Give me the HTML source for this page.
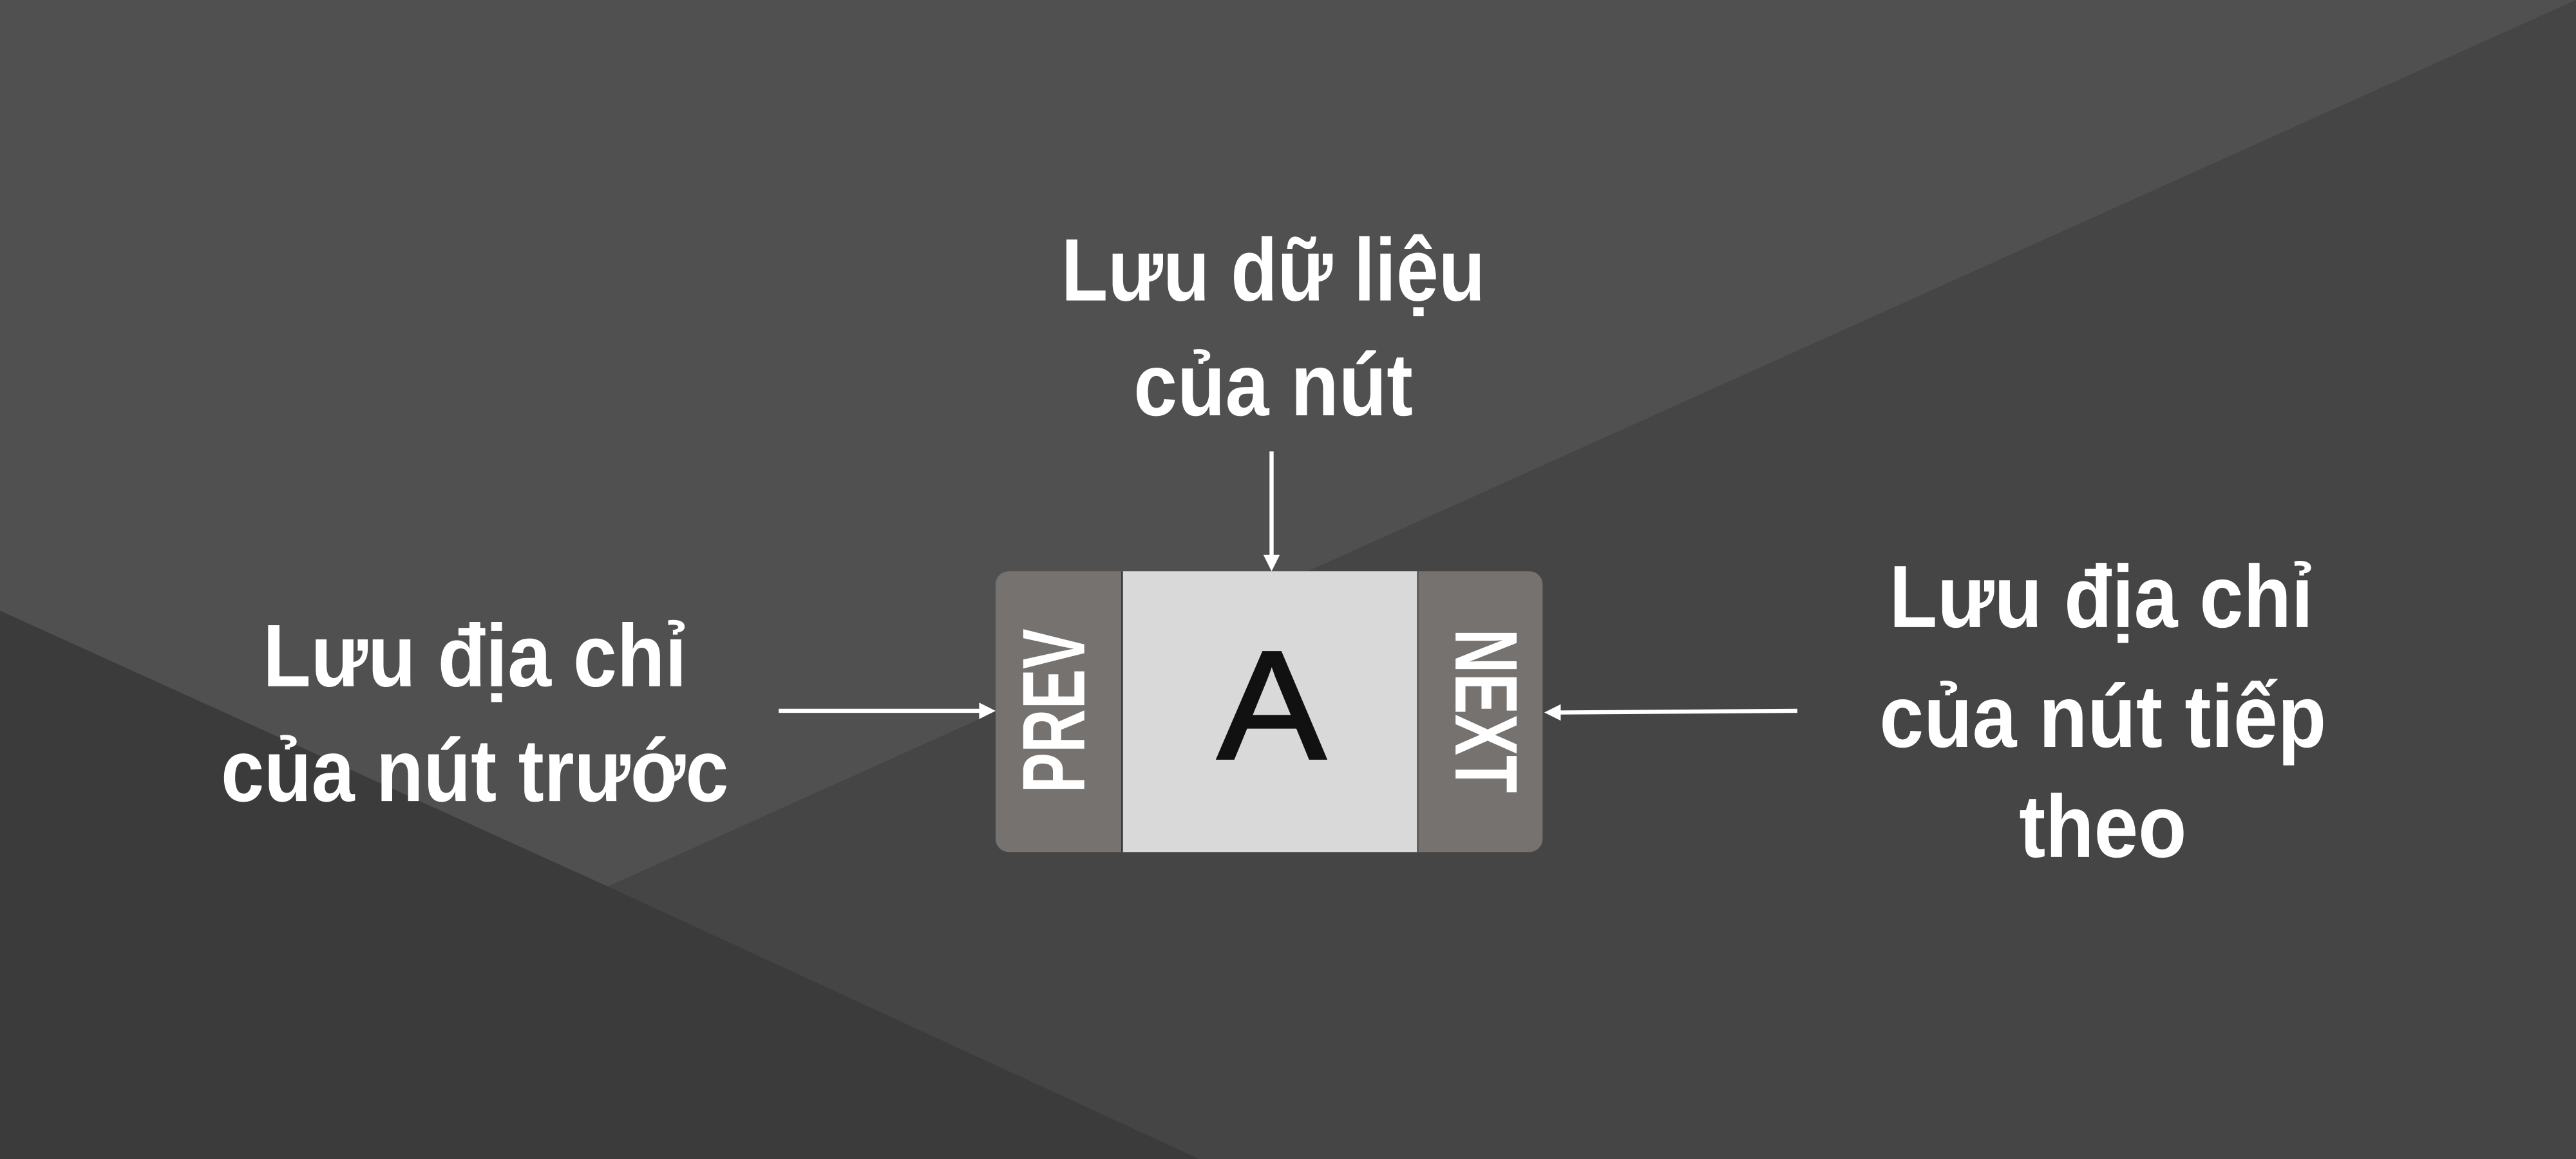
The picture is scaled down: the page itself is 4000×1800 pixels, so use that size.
<!DOCTYPE html>
<html><head><meta charset="utf-8"><style>
html,body{margin:0;padding:0;width:4000px;height:1800px;overflow:hidden;background:#474747}
svg{display:block}
.t{font-family:"Liberation Sans Narrow","Liberation Sans",sans-serif;font-weight:bold;fill:#fff;font-size:54px;text-anchor:middle}
</style></head><body>
<svg width="4000" height="1800" viewBox="0 0 1568 706" preserveAspectRatio="none">
<polygon points="0,0 1568,0 370,540 0,372" fill="#505050"/>
<polygon points="1568,0 1568,706 730,706 370,540" fill="#454545"/>
<polygon points="0,372 370,540 730,706 0,706" fill="#3b3b3b"/>
<rect x="606" y="348" width="333" height="171" rx="8" fill="#767270"/>
<rect x="683" y="348" width="180" height="171" fill="#d9d9d9"/>
<line x1="683" y1="348" x2="683" y2="519" stroke="#333" stroke-width="1"/>
<line x1="863" y1="348" x2="863" y2="519" stroke="#555" stroke-width="1"/>
<text x="774" y="462" font-family="Liberation Sans,sans-serif" font-size="94" text-anchor="middle" fill="#111" stroke="#111" stroke-width="1.5" textLength="66" lengthAdjust="spacingAndGlyphs">A</text>
<text class="t" font-size="40" textLength="100" lengthAdjust="spacingAndGlyphs" transform="translate(660,433) rotate(-90)">PREV</text>
<text class="t" font-size="40" textLength="100" lengthAdjust="spacingAndGlyphs" transform="translate(886,433) rotate(90)">NEXT</text>
<g class="t">
<text class="t" x="775" y="183" textLength="258" lengthAdjust="spacingAndGlyphs">Lưu dữ liệu</text>
<text class="t" x="775" y="253" textLength="170" lengthAdjust="spacingAndGlyphs">của nút</text>
<text class="t" x="289" y="418" textLength="258" lengthAdjust="spacingAndGlyphs">Lưu địa chỉ</text>
<text class="t" x="289" y="488" textLength="309" lengthAdjust="spacingAndGlyphs">của nút trước</text>
<text class="t" x="1279" y="382" textLength="258" lengthAdjust="spacingAndGlyphs">Lưu địa chỉ</text>
<text class="t" x="1280" y="455" textLength="272" lengthAdjust="spacingAndGlyphs">của nút tiếp</text>
<text class="t" x="1280" y="522" textLength="102" lengthAdjust="spacingAndGlyphs">theo</text>
</g>
<g stroke="#fff" stroke-width="2.5" fill="#fff">
<line x1="474" y1="433" x2="598" y2="433"/>
<polygon points="606,433 596,428 596,438" stroke="none"/>
<line x1="774" y1="275" x2="774" y2="340"/>
<polygon points="774,348 769,338 779,338" stroke="none"/>
<line x1="1094" y1="433" x2="948" y2="434"/>
<polygon points="940,434 950,429 950,439" stroke="none"/>
</g>
</svg>
</body></html>
